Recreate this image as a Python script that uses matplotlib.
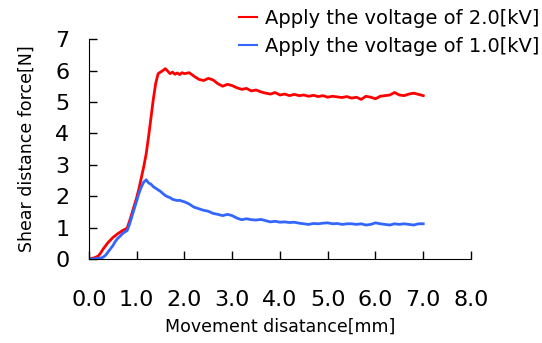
import matplotlib
matplotlib.use("Agg")
import matplotlib.pyplot as plt

plt.rcParams["font.family"] = ["DejaVu Sans"]

# movement distance [mm]
x_mm = [0.0, 0.05, 0.1, 0.15, 0.2, 0.25, 0.3, 0.35, 0.4, 0.45, 0.5, 0.55, 0.6, 0.65, 0.7,
        0.75, 0.8, 0.85, 0.9, 0.95, 1.0, 1.05, 1.1, 1.15, 1.2, 1.25, 1.3, 1.35, 1.4, 1.45,
        1.5, 1.55, 1.6, 1.65, 1.7, 1.75, 1.8, 1.85, 1.9, 1.95, 2.0, 2.1, 2.2, 2.3, 2.4,
        2.5, 2.6, 2.7, 2.8, 2.9, 3.0, 3.1, 3.2, 3.3, 3.4, 3.5, 3.6, 3.7, 3.8, 3.9, 4.0,
        4.1, 4.2, 4.3, 4.4, 4.5, 4.6, 4.7, 4.8, 4.9, 5.0, 5.1, 5.2, 5.3, 5.4, 5.5, 5.6,
        5.7, 5.8, 5.9, 6.0, 6.1, 6.2, 6.3, 6.4, 6.5, 6.6, 6.7, 6.8, 6.9, 7.0]

force_2kv = [0.0, 0.02, 0.03, 0.06, 0.1, 0.2, 0.32, 0.42, 0.52, 0.6, 0.68, 0.74, 0.8, 0.85, 0.9,
             0.94, 0.98, 1.2, 1.45, 1.7, 1.95, 2.25, 2.6, 2.95, 3.35, 3.9, 4.5, 5.1, 5.6, 5.9,
             5.95, 6.0, 6.06, 5.98, 5.9, 5.95, 5.88, 5.92, 5.87, 5.93, 5.9, 5.93, 5.82, 5.72, 5.68,
             5.75, 5.7, 5.58, 5.5, 5.56, 5.52, 5.45, 5.4, 5.43, 5.35, 5.38, 5.32, 5.28, 5.25, 5.3, 5.22,
             5.25, 5.2, 5.24, 5.2, 5.22, 5.18, 5.21, 5.17, 5.2, 5.15, 5.18, 5.16, 5.14, 5.17, 5.12, 5.15,
             5.08, 5.18, 5.15, 5.1, 5.18, 5.2, 5.22, 5.3, 5.22, 5.2, 5.25, 5.28, 5.24, 5.2]

force_1kv = [0.0, 0.0, 0.0, 0.01, 0.02, 0.03, 0.06, 0.12, 0.22, 0.32, 0.42, 0.55, 0.65, 0.72, 0.8,
             0.86, 0.9, 1.1, 1.35, 1.6, 1.85, 2.1, 2.3, 2.45, 2.52, 2.42, 2.38, 2.3, 2.25, 2.2,
             2.15, 2.08, 2.02, 1.98, 1.95, 1.9, 1.88, 1.86, 1.87, 1.84, 1.82, 1.75, 1.65, 1.6, 1.55,
             1.52, 1.45, 1.42, 1.38, 1.42, 1.38, 1.3, 1.25, 1.28, 1.25, 1.24, 1.26, 1.22, 1.18, 1.2, 1.17,
             1.18, 1.16, 1.17, 1.14, 1.12, 1.1, 1.13, 1.12, 1.14, 1.15, 1.12, 1.13, 1.1, 1.12, 1.12, 1.1,
             1.12, 1.08, 1.1, 1.15, 1.12, 1.1, 1.08, 1.12, 1.1, 1.12, 1.1, 1.08, 1.12, 1.12]

x_ticks = [0, 1, 2, 3, 4, 5, 6, 7, 8]
y_ticks = [0, 1, 2, 3, 4, 5, 6, 7]

fig = plt.figure(figsize=(5.42, 3.43), dpi=100)
ax = fig.add_axes([0.164, 0.245, 0.705, 0.641])

ax.plot(x_mm, force_2kv, color="#ff0000", lw=2.0, label="Apply the voltage of 2.0[kV]")
ax.plot(x_mm, force_1kv, color="#3366ff", lw=2.0, label="Apply the voltage of 1.0[kV]")

ax.set_xlim(0, 8)
ax.set_ylim(0, 7)
ax.set_xticks(x_ticks)
ax.set_xticklabels([f"{v:.1f}" for v in x_ticks])
ax.set_yticks(y_ticks)
ax.tick_params(direction="in", length=6, width=1, labelsize=16)
ax.tick_params(axis="x", pad=22)
ax.tick_params(axis="y", pad=14)
ax.spines["top"].set_visible(False)
ax.spines["right"].set_visible(False)

ax.set_xlabel("Movement disatance[mm]", fontsize=12.5, labelpad=6)
ax.set_ylabel("Shear distance force[N]", fontsize=12.5, labelpad=14)

leg = fig.legend(loc="upper right", bbox_to_anchor=(1.028, 1.025), frameon=False, fontsize=14,
                 handlelength=0.9, handletextpad=0.45, labelspacing=0.45)
for line in leg.get_lines():
    line.set_linewidth(1.5)

fig.savefig("out.png", dpi=100)
